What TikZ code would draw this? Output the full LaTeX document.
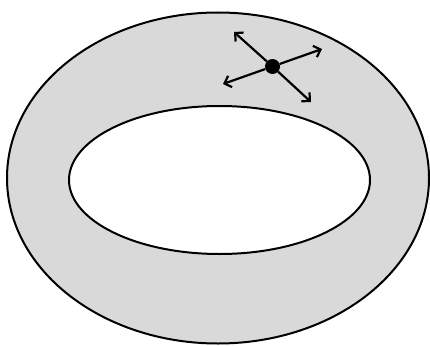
\documentclass[tikz,border=0pt]{standalone}
\usepackage{tikz}
\usetikzlibrary{arrows.meta,positioning,shapes.geometric}
\definecolor{ringgray}{rgb}{0.85,0.85,0.85}

\begin{document}
\begin{tikzpicture}[x=1pt,y=-1pt,
   rim/.style={draw,line width=2pt,ellipse,inner sep=0pt},
   vec/.style={line width=2.2pt,-{Straight Barb[length=6pt,width=12pt,line width=2.2pt]}}]
  \useasboundingbox (0,0) rectangle (430,345);
  % ring between the two ellipses
  \node[rim,fill=ringgray,minimum width=422pt,minimum height=331pt] (outer) at (218,178) {};
  \node[rim,fill=white,minimum width=301pt,minimum height=148pt] (inner) at (219.5,180) {};
  % point with its tangent directions
  \node[circle,fill=black,inner sep=0pt,minimum size=15pt] (p) at (272.5,66.5) {};
  \coordinate (nw) at (234,32);
  \coordinate (ne) at (322,49);
  \coordinate (sw) at (223,84);
  \coordinate (se) at (311,102);
  \draw[vec] (p) -- (nw);
  \draw[vec] (p) -- (ne);
  \draw[vec] (p) -- (sw);
  \draw[vec] (p) -- (se);
\end{tikzpicture}
\end{document}
